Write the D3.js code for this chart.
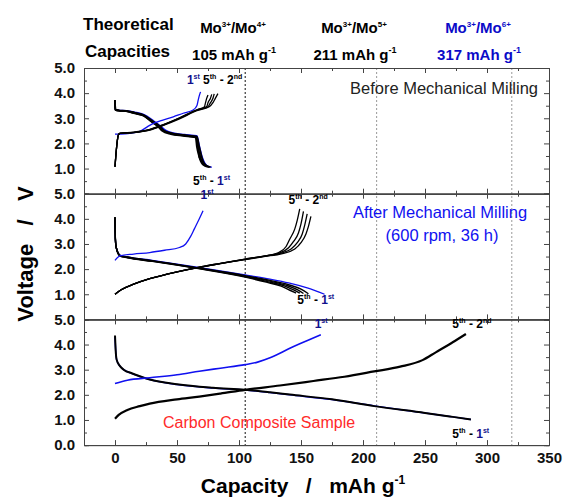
<!DOCTYPE html>
<html>
<head>
<meta charset="utf-8">
<script src="https://cdn.jsdelivr.net/npm/d3@7"></script>
<style>
  body { margin: 0; background: #fff; }
  svg { font-family: "Liberation Sans", Arial, sans-serif; }
  .tick text { font-weight: bold; font-size: 15px; fill: #111; }
  .pre { white-space: pre; }
</style>
</head>
<body>
<script>
// ---- data (capacity mAh/g, voltage V) ----
var capTicks = [0, 50, 100, 150, 200, 250, 300, 350];
var capMinor = [-25, 25, 75, 125, 175, 225, 275, 325];
var theoLines = [105, 211, 320];
var theoLabels = ["105", "211", "317"];

// before mechanical milling
var beforeCharge1 = [[0,2.37],[8,2.38],[14,2.42],[20,2.48],[26,2.66],[31,2.8],[38,2.92],[47,3.06],[55,3.2],[63,3.33],[66,3.5],[67,3.7],[68,3.9],[69,4.05]];
var beforeCharge2 = [[0,1.07],[1,1.7],[2.7,2.33],[4,2.4],[15,2.43],[28,2.53],[39,2.72],[52,2.98],[66,3.3],[76,3.46],[79,3.62],[81,3.8],[83,3.98]];
var beforeCharge3 = [[0,1.07],[1,1.7],[2.7,2.33],[4,2.4],[15,2.43],[28,2.54],[39,2.73],[52,3.0],[66,3.32],[75,3.46],[77,3.62],[79,3.8],[80,3.97]];
var beforeCharge4 = [[0,1.07],[1,1.7],[2.7,2.33],[4,2.4],[15,2.44],[28,2.55],[39,2.74],[52,3.01],[66,3.33],[74,3.47],[75,3.62],[77,3.8],[78,3.95]];
var beforeCharge5 = [[0,1.07],[1,1.7],[2.7,2.33],[4,2.41],[15,2.45],[28,2.56],[39,2.75],[52,3.02],[66,3.34],[72,3.45],[73,3.62],[74,3.8],[75,3.93]];
var beforeDisch1 = [[0,3.7],[0.3,3.35],[3,3.32],[9,3.3],[16,3.24],[23,3.15],[31,2.9],[36,2.72],[40,2.55],[46,2.42],[56,2.35],[66,2.3],[68,1.9],[70,1.5],[72,1.25],[74,1.12],[78,1.05]];
var beforeDisch2 = [[0,3.73],[0.3,3.35],[3,3.32],[9,3.3],[16,3.22],[23,3.13],[31,2.86],[36,2.68],[39,2.53],[46,2.4],[56,2.33],[66,2.27],[68,1.86],[70,1.45],[71,1.3],[73,1.15],[77,1.06]];
var beforeDisch3 = [[0,3.73],[0.3,3.34],[3,3.31],[9,3.29],[16,3.21],[23,3.12],[31,2.85],[36,2.67],[39,2.52],[46,2.39],[56,2.32],[66,2.26],[67,1.86],[69,1.45],[70,1.3],[72,1.15],[76,1.06]];
var beforeDisch4 = [[0,3.73],[0.3,3.34],[3,3.3],[9,3.28],[16,3.2],[23,3.11],[30,2.85],[35,2.67],[39,2.51],[46,2.38],[56,2.31],[65,2.25],[67,1.86],[68,1.45],[70,1.3],[72,1.15],[75,1.07]];
var beforeDisch5 = [[0,3.73],[0.3,3.33],[3,3.3],[9,3.28],[16,3.19],[23,3.1],[30,2.84],[35,2.66],[38,2.5],[45,2.37],[55,2.3],[65,2.24],[66,1.86],[68,1.45],[69,1.3],[71,1.15],[74,1.07]];

// after mechanical milling (600 rpm, 36 h)
var afterCharge1 = [[0,2.35],[4,2.53],[15,2.6],[28,2.66],[40,2.75],[52,2.86],[57,3.0],[61,3.3],[64,3.6],[68,4.0],[71,4.32]];
var afterCharge2 = [[0,1.0],[5,1.18],[15,1.4],[28,1.62],[42,1.8],[66,2.05],[85,2.22],[105,2.38],[120,2.5],[135,2.62],[145,2.8],[150,3.05],[154,3.4],[156,3.7],[158,4.1]];
var afterCharge3 = [[0,1.0],[5,1.18],[15,1.4],[28,1.62],[42,1.8],[66,2.05],[85,2.22],[105,2.39],[120,2.51],[134,2.64],[142,2.8],[147,3.05],[151,3.4],[153,3.75],[155,4.2]];
var afterCharge4 = [[0,1.0],[5,1.18],[15,1.4],[28,1.62],[42,1.8],[66,2.06],[85,2.23],[105,2.4],[120,2.52],[133,2.65],[140,2.85],[144,3.1],[148,3.45],[150,3.8],[152,4.3]];
var afterCharge5 = [[0,1.0],[5,1.18],[15,1.4],[28,1.62],[42,1.8],[66,2.06],[85,2.23],[105,2.4],[120,2.52],[132,2.66],[138,2.9],[141,3.2],[145,3.6],[147,3.95],[149,4.4]];
var afterDisch1 = [[0,4.0],[0.3,3.2],[1,2.86],[4,2.56],[10,2.49],[30,2.35],[66,2.08],[105,1.77],[125,1.6],[140,1.45],[155,1.25],[169,1.0]];
var afterDisch2 = [[0,4.06],[0.3,3.2],[1,2.86],[4,2.55],[10,2.48],[30,2.34],[66,2.06],[105,1.74],[125,1.55],[140,1.38],[150,1.2],[156,1.02]];
var afterDisch3 = [[0,4.06],[0.3,3.2],[1,2.86],[4,2.54],[10,2.47],[30,2.33],[66,2.05],[105,1.72],[125,1.52],[138,1.36],[147,1.18],[152,1.03]];
var afterDisch4 = [[0,4.06],[0.3,3.2],[1,2.86],[4,2.53],[10,2.46],[30,2.32],[66,2.04],[105,1.7],[123,1.5],[136,1.34],[144,1.17],[149,1.04]];
var afterDisch5 = [[0,4.06],[0.3,3.2],[1,2.86],[4,2.52],[10,2.45],[30,2.31],[66,2.03],[105,1.68],[122,1.48],[134,1.32],[141,1.16],[146,1.05]];

// carbon composite sample
var carbonCharge1 = [[0,2.45],[10,2.58],[28,2.68],[50,2.8],[68,2.94],[85,3.06],[105,3.2],[115,3.3],[125,3.47],[133,3.65],[141,3.85],[149,4.03],[158,4.22],[166,4.39]];
var carbonCharge = [[0,1.05],[3,1.2],[10,1.4],[20,1.55],[28,1.65],[50,1.82],[68,1.93],[85,2.05],[105,2.2],[133,2.37],[160,2.55],[185,2.72],[209,2.93],[230,3.12],[248,3.38],[259,3.7],[266,3.9],[272,4.08],[283,4.42]];
var carbonDisch1 = [[0,4.3],[0.5,3.8],[1.3,3.4],[4,3.14],[7,3.0],[14,2.84],[20,2.73],[28,2.61],[50,2.41],[79,2.27],[105,2.19],[125,2.09],[141,2.0],[175,1.81],[209,1.56],[250,1.28],[270,1.14],[287,1.02]];
var carbonDisch = [[0,4.36],[0.5,3.8],[1.3,3.4],[4,3.14],[7,3.0],[14,2.85],[20,2.74],[28,2.61],[50,2.42],[79,2.28],[105,2.2],[125,2.1],[141,2.01],[175,1.82],[209,1.55],[250,1.28],[270,1.14],[287,1.02]];

// ---- layout ----
var W = 563, H = 498;
var plotLeft = 84, plotRight = 549, plotTop = 68, panelH = 125.7;
var black = "#000", blue = "#1010f0", navy = "#10108c";

var svg = d3.select("body").append("svg").attr("width", W).attr("height", H);

var x = d3.scaleLinear().domain([-25, 350]).range([plotLeft, plotRight]);

var panels = [
  {name: "before", labelFrom: 1, curves: [
    [beforeDisch1, blue, 1.6], [beforeDisch2, black, 1.7], [beforeDisch3, black, 1.7], [beforeDisch4, black, 1.7], [beforeDisch5, black, 1.7],
    [beforeCharge1, blue, 1.3],
    [beforeCharge2, black, 1.3], [beforeCharge3, black, 1.3], [beforeCharge4, black, 1.3], [beforeCharge5, black, 1.3]]},
  {name: "after", labelFrom: 1, curves: [
    [afterDisch1, blue, 1.3], [afterDisch2, black, 1.4], [afterDisch3, black, 1.4], [afterDisch4, black, 1.4], [afterDisch5, black, 1.4],
    [afterCharge1, blue, 1.3],
    [afterCharge2, black, 1.3], [afterCharge3, black, 1.3], [afterCharge4, black, 1.3], [afterCharge5, black, 1.3]]},
  {name: "carbon", labelFrom: 0, curves: [
    [carbonDisch1, blue, 1.5], [carbonDisch, black, 2],
    [carbonCharge1, blue, 1.6], [carbonCharge, black, 2.2]]}
];

panels.forEach(function (p, i) {
  var y0 = plotTop + i * panelH;
  p.y = d3.scaleLinear().domain([0, 5]).range([y0 + panelH, y0]);
});

// dotted theoretical capacity lines
svg.selectAll("line.theo")
  .data(theoLines)
  .enter().append("line")
  .attr("class", "theo")
  .attr("x1", function (d) { return x(d); })
  .attr("x2", function (d) { return x(d); })
  .attr("y1", plotTop)
  .attr("y2", plotTop + 3 * panelH)
  .style("stroke", function (d, i) { return i == 0 ? "#111" : "#999"; })
  .style("stroke-width", 1)
  .style("stroke-dasharray", "2,2");

var line = d3.line()
  .curve(d3.curveMonotoneX);

panels.forEach(function (p, i) {
  var y = p.y;
  var g = svg.append("g").attr("class", "panel-" + p.name);

  // axes
  var majorV = d3.range(p.labelFrom, 6);
  var minorV = [0.5, 1.5, 2.5, 3.5, 4.5];

  g.append("g")
    .attr("transform", "translate(" + plotLeft + ",0)")
    .call(d3.axisLeft(y).tickValues(majorV).tickSize(-5).tickPadding(9).tickFormat(d3.format(".1f")));
  g.append("g")
    .attr("transform", "translate(" + plotLeft + ",0)")
    .call(d3.axisLeft(y).tickValues(minorV).tickSize(-3).tickFormat(""));
  g.append("g")
    .attr("transform", "translate(" + plotRight + ",0)")
    .call(d3.axisRight(y).tickValues(d3.range(0, 6)).tickSize(-5).tickFormat(""));
  g.append("g")
    .attr("transform", "translate(" + plotRight + ",0)")
    .call(d3.axisRight(y).tickValues(minorV).tickSize(-3).tickFormat(""));

  var yTop = y(5), yBot = y(0);
  g.append("g")
    .attr("transform", "translate(0," + yTop + ")")
    .call(d3.axisTop(x).tickValues(capTicks).tickSize(-5).tickFormat(""));
  g.append("g")
    .attr("transform", "translate(0," + yTop + ")")
    .call(d3.axisTop(x).tickValues(capMinor).tickSize(-3).tickFormat(""));
  g.append("g")
    .attr("transform", "translate(0," + yBot + ")")
    .call(d3.axisBottom(x).tickValues(capTicks).tickSize(-5).tickPadding(7)
      .tickFormat(i == 2 ? d3.format("d") : ""));
  g.append("g")
    .attr("transform", "translate(0," + yBot + ")")
    .call(d3.axisBottom(x).tickValues(capMinor).tickSize(-3).tickFormat(""));

  g.selectAll(".domain").style("stroke", "#444");
  g.selectAll(".tick line").style("stroke", "#444");

  // curves
  line.x(function (d) { return x(d[0]); }).y(function (d) { return y(d[1]); });
  g.selectAll("path.curve")
    .data(p.curves)
    .enter().append("path")
    .attr("class", "curve")
    .attr("d", function (d) { return line(d[0]); })
    .style("fill", "none")
    .style("stroke", function (d) { return d[1]; })
    .style("stroke-width", function (d) { return d[2]; })
    .style("stroke-linejoin", "round");
});

// cycle labels
function cycLabel(px, py, parts) {
  var t = svg.append("text")
    .attr("class", "pre")
    .attr("x", px).attr("y", py)
    .style("font-weight", "bold")
    .style("font-size", "12px");
  parts.forEach(function (pt) {
    var s = t.append("tspan").text(pt[0]).style("fill", pt[1]);
    if (pt[2]) s.attr("dy", -5).style("font-size", "7px");
    else if (pt[3]) s.attr("dy", 5);
  });
}
var lab = function (cap, v, pi) { return [x(cap), panels[pi].y(v)]; };
var firstTag = [["1", navy], ["st", navy, true]];
var range52 = [["5", black], ["th", black, true], [" - ", black, false, true], ["2", black], ["nd", black, true]];
var range51 = [["5", black], ["th", black, true], [" - ", black, false, true], ["1", navy], ["st", navy, true]];

var labelSpots = [
  [58, 4.35, 0, firstTag], [71, 4.35, 0, range52], [63, 0.35, 0, range51],
  [69, 4.8, 1, firstTag], [140, 4.6, 1, range52], [147, 0.6, 1, range51],
  [161, 4.65, 2, firstTag], [272, 4.65, 2, range52], [272, 0.3, 2, range51]
];
labelSpots.forEach(function (s) {
  var p = lab(s[0], s[1], s[2]);
  cycLabel(p[0], p[1], s[3]);
});

// panel captions
svg.append("text").attr("x", 538).attr("y", panels[0].y(4.0) + 1)
  .attr("text-anchor", "end").style("font-size", "16.5px").style("fill", "#222")
  .text("Before Mechanical Milling");
svg.append("text").attr("x", 440).attr("y", panels[1].y(4.05))
  .attr("text-anchor", "middle").style("font-size", "16.5px").style("fill", blue)
  .text("After Mechanical Milling");
svg.append("text").attr("x", 442).attr("y", panels[1].y(3.1))
  .attr("text-anchor", "middle").style("font-size", "16.5px").style("fill", blue)
  .text("(600 rpm, 36 h)");
svg.append("text").attr("x", 163).attr("y", panels[2].y(0.7))
  .style("font-size", "16px").style("fill", "#ff2a2a")
  .text("Carbon Composite Sample");

// header: theoretical capacities
svg.append("text").attr("x", 83).attr("y", 30)
  .style("font-weight", "bold").style("font-size", "17px").text("Theoretical");
svg.append("text").attr("x", 85).attr("y", 57)
  .style("font-weight", "bold").style("font-size", "17px").text("Capacities");

var headCenters = [233, 354, 478];
var headColors = ["#000", "#000", "#0b0bc8"];
var upperStates = ["4+", "5+", "6+"];
headCenters.forEach(function (cx, i) {
  var t = svg.append("text").attr("x", cx).attr("y", 33)
    .attr("text-anchor", "middle")
    .style("font-weight", "bold").style("font-size", "15px").style("fill", headColors[i]);
  t.append("tspan").text("Mo");
  t.append("tspan").text("3+").attr("dy", -6).style("font-size", "8px");
  t.append("tspan").text("/Mo").attr("dy", 6);
  t.append("tspan").text(upperStates[i]).attr("dy", -6).style("font-size", "8px");

  var c = svg.append("text").attr("x", cx + 1).attr("y", 60)
    .attr("text-anchor", "middle")
    .style("font-weight", "bold").style("font-size", "15px").style("fill", headColors[i]);
  c.append("tspan").text(theoLabels[i] + " mAh g");
  c.append("tspan").text("-1").attr("dy", -7).style("font-size", "9px");
});

// axis titles
var xt = svg.append("text").attr("class", "pre").attr("x", 303).attr("y", 493)
  .attr("text-anchor", "middle")
  .style("font-weight", "bold").style("font-size", "21px");
xt.append("tspan").text("Capacity   /   mAh g");
xt.append("tspan").text("-1").attr("dy", -9).style("font-size", "12px");

svg.append("text").attr("class", "pre")
  .attr("transform", "translate(33," + 254 + ") rotate(-90)")
  .attr("text-anchor", "middle")
  .style("font-weight", "bold").style("font-size", "22px")
  .text("Voltage   /   V");
</script>
</body>
</html>
